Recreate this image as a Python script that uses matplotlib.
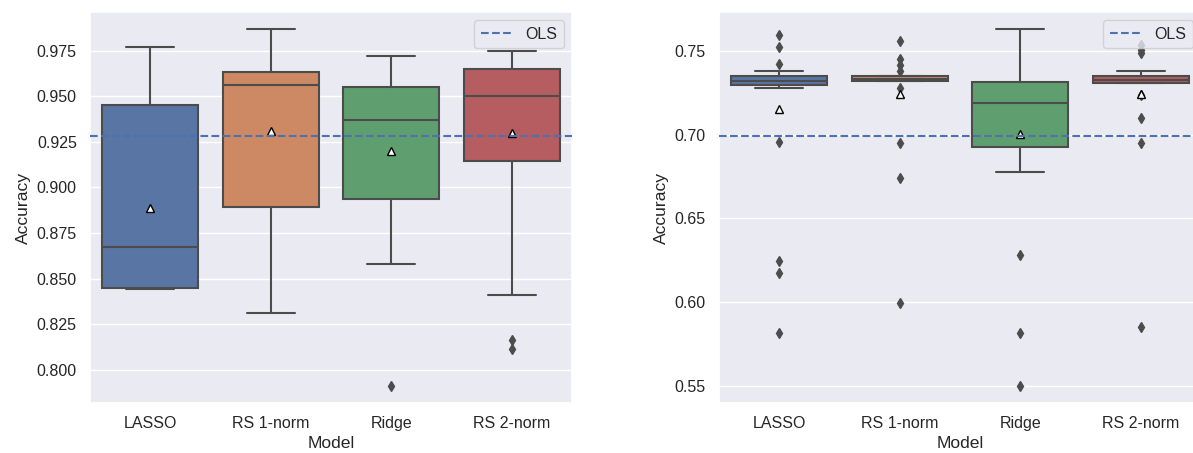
import matplotlib
matplotlib.use("Agg")
import matplotlib.pyplot as plt
import seaborn as sns

models = ["LASSO", "RS 1-norm", "Ridge", "RS 2-norm"]

# left panel: box statistics
left_whislo = [0.8443, 0.8311, 0.8581, 0.8413]
left_q1 = [0.8450, 0.8894, 0.8934, 0.9144]
left_med = [0.8674, 0.9562, 0.9368, 0.9500]
left_q3 = [0.9450, 0.9633, 0.9553, 0.9651]
left_whishi = [0.9772, 0.9867, 0.9721, 0.9750]
left_mean = [0.8886, 0.9312, 0.9197, 0.9297]
left_fliers = [[], [], [0.7913], [0.8161, 0.8116]]
left_ols = 0.9283

# right panel
right_whislo = [0.7275, 0.7320, 0.6776, 0.7308]
right_q1 = [0.7297, 0.7320, 0.6927, 0.7308]
right_med = [0.7320, 0.7334, 0.7186, 0.7325]
right_q3 = [0.7347, 0.7350, 0.7311, 0.7347]
right_whishi = [0.7380, 0.7350, 0.7627, 0.7380]
right_mean = [0.7154, 0.7240, 0.7003, 0.7240]
right_fliers = [
    [0.7593, 0.7520, 0.7418, 0.6955, 0.6248, 0.6172, 0.5818],
    [0.7558, 0.7450, 0.7415, 0.7378, 0.7280, 0.6951, 0.6739, 0.5997],
    [0.6279, 0.5818, 0.5500],
    [0.7534, 0.7504, 0.7484, 0.7238, 0.7096, 0.6951, 0.5854],
]
right_ols = 0.6991


def make_stats(lo, q1, med, q3, hi, mean, fliers):
    stats = []
    for i in range(len(models)):
        stats.append(dict(whislo=lo[i], q1=q1[i], med=med[i], q3=q3[i],
                          whishi=hi[i], mean=mean[i], fliers=fliers[i]))
    return stats


def draw_panel(ax, stats, ols, ylim, yticks, fmt):
    gray = "#4c4c4c"
    colors = [sns.desaturate(c, 0.75) for c in sns.color_palette("deep")[:4]]
    bp = ax.bxp(stats, positions=range(len(models)), widths=0.8,
                patch_artist=True, showmeans=True,
                boxprops=dict(edgecolor=gray, linewidth=1.5),
                medianprops=dict(color=gray, linewidth=1.5),
                whiskerprops=dict(color=gray, linewidth=1.5),
                capprops=dict(color=gray, linewidth=1.5),
                flierprops=dict(marker="d", markerfacecolor=gray,
                                markeredgecolor=gray, markersize=5),
                meanprops=dict(marker="^", markerfacecolor="white",
                               markeredgecolor="black", markersize=6))
    for patch, c in zip(bp["boxes"], colors):
        patch.set_facecolor(c)
    ax.axhline(ols, ls="--", color=sns.color_palette("deep")[0], lw=1.5,
               label="OLS", zorder=5)
    ax.set_xlim(-0.5, len(models) - 0.5)
    ax.set_xticks(range(len(models)))
    ax.set_xticklabels(models)
    ax.set_ylim(*ylim)
    ax.set_yticks(yticks)
    ax.set_yticklabels([fmt.format(t) for t in yticks])
    ax.grid(False, axis="x")
    ax.set_xlabel("Model")
    ax.set_ylabel("Accuracy")
    ax.legend(loc="upper right")


sns.set_theme(style="darkgrid", font_scale=1.05)
plt.rcParams["font.family"] = ["Liberation Sans", "DejaVu Sans"]

fig = plt.figure(figsize=(11.93, 4.53), dpi=100)
ax1 = fig.add_axes([90 / 1193, 1 - 402.7 / 453, 482 / 1193, 390.4 / 453])
ax2 = fig.add_axes([719 / 1193, 1 - 402.7 / 453, 482 / 1193, 390.4 / 453])

draw_panel(ax1, make_stats(left_whislo, left_q1, left_med, left_q3, left_whishi,
                           left_mean, left_fliers),
           left_ols, (0.782, 0.996),
           [0.800, 0.825, 0.850, 0.875, 0.900, 0.925, 0.950, 0.975], "{:.3f}")
draw_panel(ax2, make_stats(right_whislo, right_q1, right_med, right_q3, right_whishi,
                           right_mean, right_fliers),
           right_ols, (0.5401, 0.7729),
           [0.55, 0.60, 0.65, 0.70, 0.75], "{:.2f}")

fig.savefig("out.png", dpi=100)
